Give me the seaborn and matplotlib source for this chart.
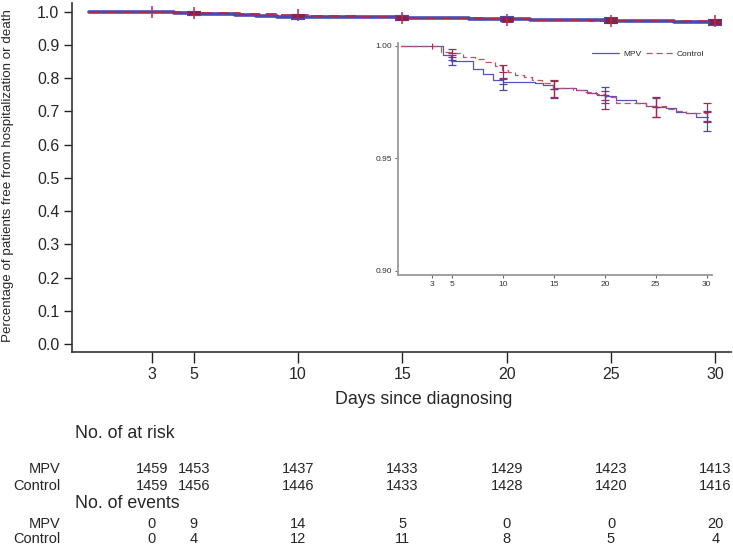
import numpy as np
import pandas as pd
import matplotlib
matplotlib.use("Agg")
import matplotlib.pyplot as plt
import matplotlib.transforms as mtrans
from matplotlib.lines import Line2D
import seaborn as sns

# ---- data ----
mpv_t = [0, 4.05, 4.9, 6.05, 7.0, 8.0, 9.0, 10.0, 13.1, 13.9, 14.9, 17.2, 18.2, 19.2,
         20.1, 21.1, 23.1, 24.0, 25.0, 26.0, 27.0, 28.0, 29.0, 30.1]
mpv_s = [1.0, 0.9960, 0.9935, 0.9931, 0.9896, 0.9874, 0.9849, 0.9841, 0.9836, 0.9827,
         0.9812, 0.9802, 0.9793, 0.9780, 0.9776, 0.9760, 0.9748, 0.9735, 0.9730, 0.9723,
         0.9708, 0.9701, 0.9686, 0.9686]
ctl_t = [0, 3.9, 5.0, 6.05, 7.2, 8.2, 9.2, 9.9, 10.5, 11.2, 12.0, 12.8, 13.8, 14.9,
         16.9, 18.0, 19.1, 20.0, 21.1, 24.0, 26.0, 27.0, 28.0, 30.1]
ctl_s = [1.0, 0.9975, 0.9969, 0.9953, 0.9941, 0.9928, 0.9913, 0.9893, 0.9883, 0.9873,
         0.9861, 0.9849, 0.9837, 0.9815, 0.9805, 0.9797, 0.9787, 0.9775, 0.9746, 0.9732,
         0.9719, 0.9711, 0.9704, 0.9704]

ci_days = [5, 10, 15, 20, 25, 30]
mpv_lo = [0.9916, 0.9806, 0.9775, 0.9748, 0.9685, 0.9623]
mpv_hi = [0.9960, 0.9855, 0.9845, 0.9819, 0.9770, 0.9713]
ctl_lo = [0.9953, 0.9857, 0.9768, 0.9719, 0.9683, 0.9664]
ctl_hi = [0.9985, 0.9914, 0.9849, 0.9801, 0.9772, 0.9746]

tick_days = [3, 5, 10, 15, 20, 25, 30]
risk_mpv = [1459, 1453, 1437, 1433, 1429, 1423, 1413]
risk_ctl = [1459, 1456, 1446, 1433, 1428, 1420, 1416]
events_mpv = [0, 9, 14, 5, 0, 0, 20]
events_ctl = [0, 4, 12, 11, 8, 5, 4]

groups = ["MPV", "Control"]
C_MPV = "#4a4aae"
C_CTL = "#b42a4a"

# ---- style ----
sns.set_style("ticks")
plt.rcParams["font.family"] = ["Liberation Sans Narrow", "Liberation Sans", "DejaVu Sans"]

W, H = 733, 545
fig = plt.figure(figsize=(W / 100, H / 100), dpi=100)

df = pd.concat([
    pd.DataFrame({"day": mpv_t, "surv": mpv_s, "group": "MPV"}),
    pd.DataFrame({"day": ctl_t, "surv": ctl_s, "group": "Control"}),
], ignore_index=True)

def ax_rect(l, t, r, b):
    return [l / W, 1 - b / H, (r - l) / W, (b - t) / H]

mpv_mid = [(a + b) / 2 for a, b in zip(mpv_lo, mpv_hi)]
ctl_mid = [(a + b) / 2 for a, b in zip(ctl_lo, ctl_hi)]
mpv_err = [np.subtract(mpv_mid, mpv_lo), np.subtract(mpv_hi, mpv_mid)]
ctl_err = [np.subtract(ctl_mid, ctl_lo), np.subtract(ctl_hi, ctl_mid)]

# ---- main axes ----
ax = fig.add_axes(ax_rect(72, 3, 731, 352))
sns.lineplot(data=df[df.group == "MPV"], x="day", y="surv", color=C_MPV, lw=2.6,
             drawstyle="steps-post", estimator=None, sort=False, ax=ax, legend=False)
sns.lineplot(data=df[df.group == "Control"], x="day", y="surv", color=C_CTL, lw=1.3,
             drawstyle="steps-post", estimator=None, sort=False, ax=ax, legend=False,
             dashes=False, linestyle=(0, (6, 3)))
ax.errorbar(ci_days, mpv_mid, yerr=mpv_err, fmt="none", ecolor=C_MPV,
            elinewidth=5, capsize=5, capthick=3, zorder=4)
ax.errorbar(ci_days, ctl_mid, yerr=ctl_err, fmt="none", ecolor="#8a1f4a",
            elinewidth=4, capsize=4, capthick=2, zorder=5)
marks_y = [1.0] + ctl_mid
ax.plot(tick_days, marks_y, ls="none", marker="|", ms=9, mew=1.1, color=C_CTL, zorder=6)

ax.set_xlim(-0.83, 30.75)
ax.set_ylim(-0.024, 1.026)
ax.set_xticks(tick_days)
ax.set_xticklabels([str(d) for d in tick_days], fontsize=11.5)
yt = np.round(np.arange(0, 1.01, 0.1), 1)
ax.set_yticks(yt)
ax.set_yticklabels([f"{v:.1f}" for v in yt], fontsize=11.5)
ax.tick_params(axis="both", direction="out", length=6, width=1, color="#222222", pad=3)
ax.tick_params(axis="x", length=8, pad=3)
for s in ["top", "right"]:
    ax.spines[s].set_visible(False)
for s in ["left", "bottom"]:
    ax.spines[s].set_color("#333333")
    ax.spines[s].set_linewidth(1.2)
ax.set_xlabel("")
ax.set_ylabel("")
fig.text(8 / W, 1 - 176 / H, "Percentage of patients free from hospitalization or death",
         rotation=90, ha="center", va="center", fontsize=9.6)
fig.text(424 / W, 1 - 400 / H, "Days since diagnosing", ha="center", va="center", fontsize=12.8)

# ---- risk table ----
tr = mtrans.blended_transform_factory(ax.transData, fig.transFigure)
def fy(y):
    return 1 - y / H
fig.text(75 / W, fy(434), "No. of at risk", ha="left", va="center", fontsize=12.8)
fig.text(75 / W, fy(504), "No. of events", ha="left", va="center", fontsize=12.8)
rows = [(469, "MPV", risk_mpv), (486, "Control", risk_ctl),
        (524, "MPV", events_mpv), (539, "Control", events_ctl)]
for y, lab, vals in rows:
    fig.text(61 / W, fy(y), lab, ha="right", va="center", fontsize=10.5)
    for d, v in zip(tick_days, vals):
        ax.text(d, fy(y), str(v), transform=tr, ha="center", va="center", fontsize=10.5)

# ---- inset ----
ia = fig.add_axes(ax_rect(398, 43, 712, 275))
sns.lineplot(data=df[df.group == "MPV"], x="day", y="surv", color="#5656b8", lw=0.9,
             drawstyle="steps-post", estimator=None, sort=False, ax=ia, legend=False)
sns.lineplot(data=df[df.group == "Control"], x="day", y="surv", color="#c0506a", lw=0.9,
             drawstyle="steps-post", estimator=None, sort=False, ax=ia, legend=False,
             dashes=False, linestyle=(0, (5, 3)))
ia.errorbar(ci_days, mpv_mid, yerr=mpv_err, fmt="_", ms=6, mew=0.9, color="#4a4aa0",
            elinewidth=0.9, capsize=3, capthick=0.9, zorder=4)
ia.errorbar(ci_days, ctl_mid, yerr=ctl_err, fmt="_", ms=6, mew=0.9, color="#9a2c55",
            elinewidth=0.9, capsize=3, capthick=0.9, zorder=5)
ia.plot([3], [1.0], ls="none", marker="|", ms=4, mew=0.8, color=C_CTL)
ia.set_xlim(-0.34, 30.53)
ia.set_ylim(0.8982, 1.0013)
ia.set_xticks(tick_days)
ia.set_xticklabels([str(d) for d in tick_days], fontsize=6)
ia.set_yticks([0.90, 0.95, 1.00])
ia.set_yticklabels(["0.90", "0.95", "1.00"], fontsize=6)
ia.tick_params(axis="both", direction="out", length=2.5, width=0.8, color="#666666",
               labelcolor="#333333", pad=1.5)
ia.set_xlabel("")
ia.set_ylabel("")
ia.patch.set_alpha(0)
for s in ["top", "right"]:
    ia.spines[s].set_visible(False)
for s in ["left", "bottom"]:
    ia.spines[s].set_color("#999999")
    ia.spines[s].set_linewidth(1.3)
handles = [Line2D([], [], color="#5656b8", lw=0.9),
           Line2D([], [], color="#c0506a", lw=0.9, linestyle=(0, (5, 3)))]
ia.legend(handles, groups, loc="upper right", bbox_to_anchor=(1.0, 1.0), ncol=2, frameon=False,
          fontsize=6, handlelength=3.2, columnspacing=0.6, handletextpad=0.5)

fig.savefig("out.png", dpi=100)
